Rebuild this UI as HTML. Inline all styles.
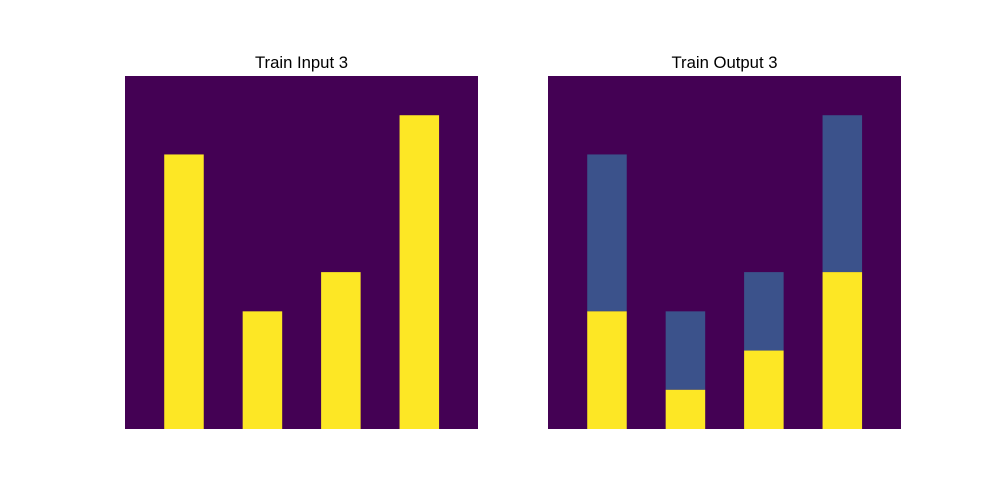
<!DOCTYPE html>
<html><head><meta charset="utf-8"><style>
html,body{margin:0;padding:0;background:#fff;}
svg{display:block;}
text{font-family:"Liberation Sans","DejaVu Sans",sans-serif;font-size:16.7px;fill:#000;}
</style></head><body>
<svg id="chart" width="1000" height="500"></svg>
<script>
const gridSize = 9;
const barColumns = [1, 3, 5, 7];
const inputHeights = [7, 3, 4, 8];
const outputYellow = [3, 1, 2, 4];
const outputBlue = [4, 2, 2, 4];
const panelTitles = ["Train Input 3", "Train Output 3"];

const NS = "http://www.w3.org/2000/svg";
const svg = document.getElementById("chart");
const panelX = [125, 548], panelY = 76, panelW = 353;
const cell = panelW / gridSize;
const colX = (p, c) => panelX[p] + c * cell;
const rowY = r => panelY + r * cell;

function rect(x, y, w, h, fill, name) {
  const r = document.createElementNS(NS, "rect");
  r.setAttribute("x", x); r.setAttribute("y", y);
  r.setAttribute("width", w); r.setAttribute("height", h);
  r.setAttribute("fill", fill);
  
  
  svg.appendChild(r);
}
function title(p) {
  const t = document.createElementNS(NS, "text");
  t.setAttribute("x", panelX[p] + panelW / 2);
  t.setAttribute("y", 68);
  t.setAttribute("text-anchor", "middle");
  t.textContent = panelTitles[p];
  
  
  svg.appendChild(t);
}
for (let p = 0; p < 2; p++) {
  rect(panelX[p], panelY, panelW, panelW, "#440154", "grid-background");
  title(p);
}
barColumns.forEach((c, i) => {
  const h = inputHeights[i];
  rect(colX(0, c), rowY(gridSize - h), cell + 0.3, h * cell, "#fde725", "input-bar");
  const y = outputYellow[i], b = outputBlue[i];
  rect(colX(1, c), rowY(gridSize - y - b), cell + 0.3, b * cell, "#3b528b", "output-blue-segment");
  rect(colX(1, c), rowY(gridSize - y), cell + 0.3, y * cell, "#fde725", "output-yellow-segment");
});
</script>
</body></html>
